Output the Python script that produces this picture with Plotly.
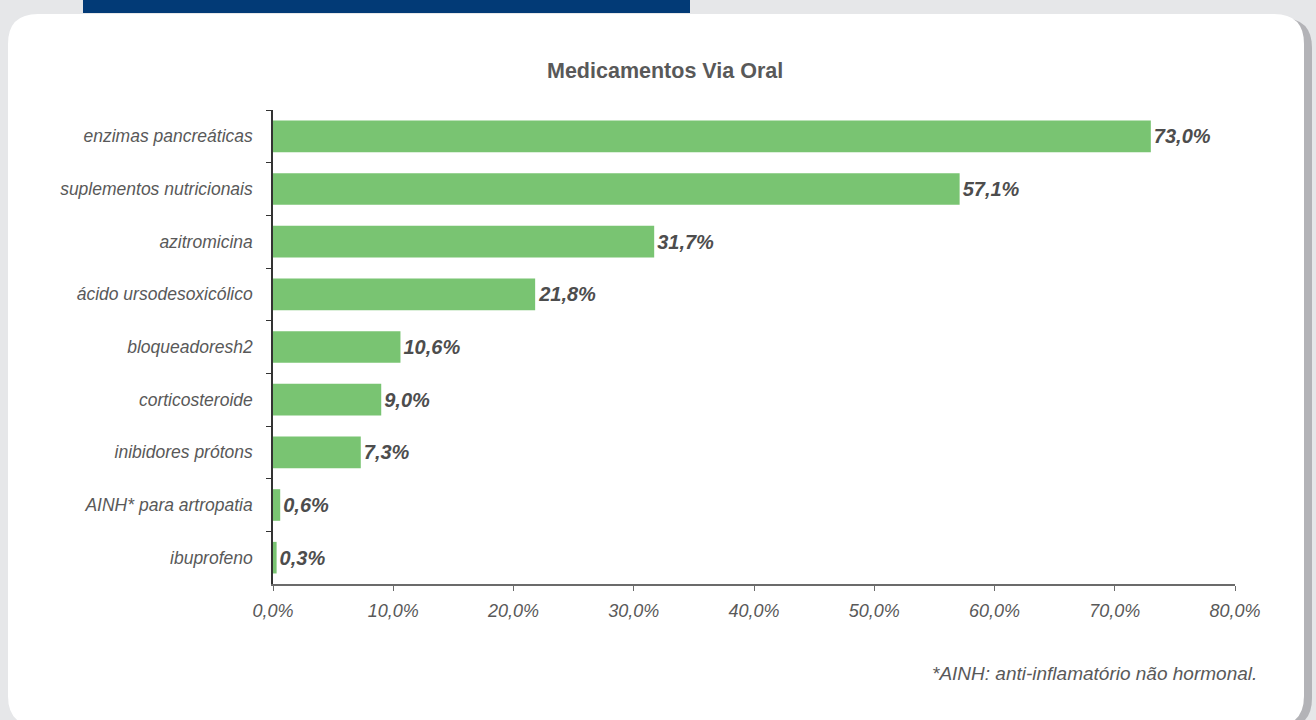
import plotly.graph_objects as go

# Data
categories = [
    "enzimas pancreáticas",
    "suplementos nutricionais",
    "azitromicina",
    "ácido ursodesoxicólico",
    "bloqueadoresh2",
    "corticosteroide",
    "inibidores prótons",
    "AINH* para artropatia",
    "ibuprofeno",
]
values = [73.0, 57.1, 31.7, 21.8, 10.6, 9.0, 7.3, 0.6, 0.3]
x_ticks = [0, 10, 20, 30, 40, 50, 60, 70, 80]
x_tick_labels = ["0,0%", "10,0%", "20,0%", "30,0%", "40,0%", "50,0%", "60,0%", "70,0%", "80,0%"]

title_text = "Medicamentos Via Oral"
footnote_text = "*AINH: anti-inflamatório não hormonal."

W, H = 1316, 720
FONT = "Liberation Sans, Arial, Helvetica, sans-serif"
TEXT_GREY = "#595959"
BAR_GREEN = "#79c472"


def px(x):
    return x / W


def py(y):
    return 1 - y / H


def rounded_rect(x0, y0, x1, y1, r):
    """SVG path (paper coords) for a rectangle with rounded corners, given in pixels."""
    rx, ry = r / W, r / H
    X0, X1 = px(x0), px(x1)
    Y0, Y1 = py(y0), py(y1)  # Y0 top, Y1 bottom
    return (
        f"M {X0 + rx},{Y0} L {X1 - rx},{Y0} Q {X1},{Y0} {X1},{Y0 - ry} "
        f"L {X1},{Y1 + ry} Q {X1},{Y1} {X1 - rx},{Y1} "
        f"L {X0 + rx},{Y1} Q {X0},{Y1} {X0},{Y1 + ry} "
        f"L {X0},{Y0 - ry} Q {X0},{Y0} {X0 + rx},{Y0} Z"
    )


fig = go.Figure(
    go.Bar(
        x=values,
        y=categories,
        orientation="h",
        marker=dict(color=BAR_GREEN, line=dict(width=0)),
        texttemplate="%{x:.1f}%",
        textposition="outside",
        textfont=dict(family=FONT, size=20, color="#4d4d4d", weight="bold", style="italic"),
        cliponaxis=False,
        hoverinfo="skip",
    )
)

shapes = [
    # card shadow
    dict(type="path", xref="paper", yref="paper", layer="below",
         path=rounded_rect(12, 18, 1312, 728, 30),
         fillcolor="#b3b3b7", line=dict(width=0)),
    # white card
    dict(type="path", xref="paper", yref="paper", layer="below",
         path=rounded_rect(8, 14, 1304, 726, 30),
         fillcolor="#ffffff", line=dict(width=0)),
    # header strip
    dict(type="rect", xref="paper", yref="paper", layer="below",
         x0=px(83), x1=px(690), y0=py(0), y1=py(13),
         fillcolor="#023a76", line=dict(width=0)),
]

annotations = [
    dict(text=f"<b>{title_text}</b>", x=px(665), y=py(71), xref="paper", yref="paper",
         xanchor="center", yanchor="middle", showarrow=False,
         font=dict(family=FONT, size=21.5, color=TEXT_GREY)),
    dict(text=footnote_text, x=px(1259), y=py(673), xref="paper", yref="paper",
         xanchor="right", yanchor="middle", showarrow=False,
         font=dict(family=FONT, size=19, color=TEXT_GREY, style="italic")),
]

fig.update_layout(
    width=W,
    height=H,
    margin=dict(l=0, r=0, t=0, b=0),
    paper_bgcolor="#e6e7e9",
    plot_bgcolor="rgba(0,0,0,0)",
    separators=",.",
    bargap=0.4,
    showlegend=False,
    shapes=shapes,
    annotations=annotations,
    xaxis=dict(
        domain=[px(273), px(1235)],
        range=[0, 80],
        tickvals=x_ticks,
        ticktext=x_tick_labels,
        showgrid=False,
        zeroline=False,
        showline=True,
        linecolor="#6b6b6b",
        linewidth=1.5,
        ticks="outside",
        ticklen=5,
        tickcolor="#6b6b6b",
        tickfont=dict(family=FONT, size=18, color=TEXT_GREY, style="italic"),
        ticklabelstandoff=5,
        automargin=False,
        fixedrange=True,
    ),
    yaxis=dict(
        domain=[py(584), py(110)],
        categoryorder="array",
        categoryarray=categories,
        autorange="reversed",
        showgrid=False,
        zeroline=False,
        showline=True,
        linecolor="#333333",
        linewidth=1.5,
        ticks="outside",
        tickson="boundaries",
        ticklen=5,
        tickcolor="#333333",
        tickfont=dict(family=FONT, size=17.5, color=TEXT_GREY, style="italic"),
        ticklabelstandoff=15,
        automargin=False,
        fixedrange=True,
    ),
)

fig.write_html("out.html")
